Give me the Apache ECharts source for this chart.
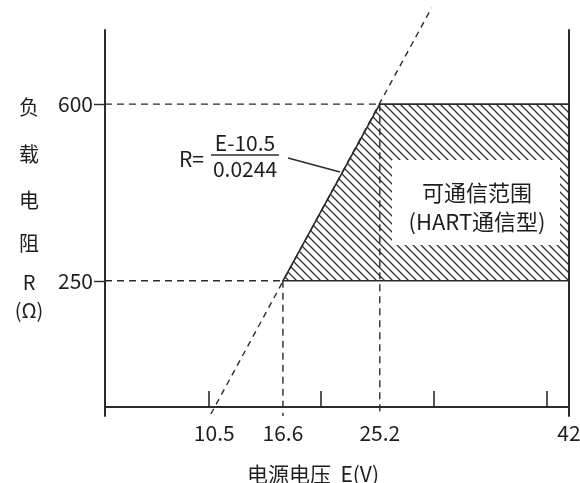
<!DOCTYPE html>
<html>
<head>
<meta charset="utf-8">
<script src="https://cdn.jsdelivr.net/npm/echarts@6/dist/echarts.min.js"></script>
<style>html,body{margin:0;padding:0;background:#fff;}#c{width:580px;height:483px;}</style>
</head>
<body>
<div id="c"></div>
<script>
// ---- data ----
const xTickValues = [10, 20, 30, 40];
const xLabelValues = [10.5, 16.6, 25.2, 42];
const yLabelValues = [250, 600];
const loadLineE = [10.2, 29.8];
const loadLineR = [-14, 791];
const regionE = [16.6, 25.2, 42, 42];
const regionR = [250, 600, 600, 250];
const guide600E = [0.8, 25.2];
const guide600R = [600, 600];
const guide250E = [0.8, 16.6];
const guide250R = [250, 250];
const drop166E = [16.6, 16.6];
const drop166R = [250, -18];
const drop252E = [25.2, 25.2];
const drop252R = [600, -18];
const xName = '电源电压  E(V)';
const yNameChars = ['负', '载', '电', '阻', 'R', '(Ω)'];
const regionText = ['可通信范围', '(HART通信型)'];

const FONT = '"Noto Sans CJK SC", "Noto Sans", sans-serif';
const INK = '#2b2b2b';
const TXT = '#1e1e1e';

function pairs(a, b) { return a.map((v, i) => [v, b[i]]); }

// hatch pattern
const pat = document.createElement('canvas');
pat.width = 8; pat.height = 8;
const pc = pat.getContext('2d');
pc.strokeStyle = '#333';
pc.lineWidth = 1.3;
pc.beginPath();
pc.moveTo(-1, -1); pc.lineTo(9, 9);
pc.moveTo(7, -1); pc.lineTo(9, 1);
pc.moveTo(-1, 7); pc.lineTo(1, 9);
pc.stroke();

const chart = echarts.init(document.getElementById('c'), null, { renderer: 'canvas' });

const dashed = (data) => ({
  type: 'line', data: data, symbol: 'none', silent: true, clip: false,
  lineStyle: { color: INK, width: 1.4, type: [7, 5] }, z: 3
});

const yBase = {
  type: 'value', min: -18, max: 747,
  splitLine: { show: false }
};

chart.setOption({
  animation: false,
  grid: { left: 105, right: 11, top: 30, bottom: 67, outerBoundsMode: 'none', containLabel: false },
  xAxis: {
    type: 'value', min: 0.8, max: 42,
    splitLine: { show: false },
    axisLine: { show: true, lineStyle: { color: INK, width: 2 } },
    axisTick: { show: true, inside: true, length: 16, customValues: xTickValues, lineStyle: { color: INK, width: 1.6 } },
    axisLabel: { customValues: xLabelValues, margin: 7, color: TXT, fontSize: 21, fontFamily: FONT,
      formatter: v => String(v) }
  },
  yAxis: [
    Object.assign({}, yBase, {
      position: 'left',
      axisLine: { show: true, lineStyle: { color: INK, width: 2 } },
      axisTick: { show: true, inside: false, length: 11, customValues: yLabelValues, lineStyle: { color: INK, width: 1.4 } },
      axisLabel: { customValues: yLabelValues, margin: 12, color: TXT, fontSize: 21, fontFamily: FONT,
        formatter: v => String(v) }
    }),
    Object.assign({}, yBase, {
      position: 'right',
      axisLine: { show: true, onZero: false, lineStyle: { color: INK, width: 2 } },
      axisTick: { show: false },
      axisLabel: { show: false }
    })
  ],
  series: [
    {
      type: 'custom', silent: true, z: 2,
      data: [0],
      renderItem: function (params, api) {
        const pts = regionE.map((e, i) => api.coord([e, regionR[i]]));
        return {
          type: 'polygon',
          shape: { points: pts },
          style: { fill: { image: pat, repeat: 'repeat' }, stroke: INK, lineWidth: 1.6 }
        };
      }
    },
    dashed(pairs(guide600E, guide600R)),
    dashed(pairs(guide250E, guide250R)),
    dashed(pairs(drop166E, drop166R)),
    dashed(pairs(drop252E, drop252R)),
    {
      type: 'line', data: pairs(loadLineE, loadLineR), symbol: 'none', silent: true, clip: false,
      lineStyle: { color: INK, width: 1.4, type: [6, 5] }, z: 4
    }
  ],
  graphic: [
    // white label box
    { type: 'rect', z: 100, shape: { x: 392, y: 160, width: 168, height: 85 }, style: { fill: '#fff' } },
    { type: 'text', z: 101, x: 477, y: 193, style: { text: regionText[0], fill: TXT, font: '22px ' + FONT, textAlign: 'center', textVerticalAlign: 'middle' } },
    { type: 'text', z: 101, x: 477, y: 222, style: { text: regionText[1], fill: TXT, font: '22px ' + FONT, textAlign: 'center', textVerticalAlign: 'middle' } },
    // formula
    { type: 'text', z: 101, x: 204, y: 159, style: { text: 'R=', fill: TXT, font: '21px ' + FONT, textAlign: 'right', textVerticalAlign: 'middle' } },
    { type: 'text', z: 101, x: 245, y: 143, style: { text: 'E-10.5', fill: TXT, font: '21px ' + FONT, textAlign: 'center', textVerticalAlign: 'middle' } },
    { type: 'line', z: 101, shape: { x1: 211, y1: 155, x2: 279, y2: 155 }, style: { stroke: INK, lineWidth: 1.3 } },
    { type: 'text', z: 101, x: 245, y: 169, style: { text: '0.0244', fill: TXT, font: '21px ' + FONT, textAlign: 'center', textVerticalAlign: 'middle' } },
    { type: 'line', z: 101, shape: { x1: 288, y1: 158, x2: 340, y2: 172 }, style: { stroke: INK, lineWidth: 1.4 } },
    // x axis name
    { type: 'text', z: 101, x: 313, y: 474, style: { text: xName, fill: TXT, font: '21px ' + FONT, textAlign: 'center', textVerticalAlign: 'middle' } },
    // y axis name (vertical stack)
    ...yNameChars.map((ch, i) => ({
      type: 'text', z: 101, x: 29, y: [107, 154, 200, 243, 282, 310][i],
      style: { text: ch, fill: TXT, font: '20px ' + FONT, textAlign: 'center', textVerticalAlign: 'middle' }
    }))
  ]
});
</script>
</body>
</html>
